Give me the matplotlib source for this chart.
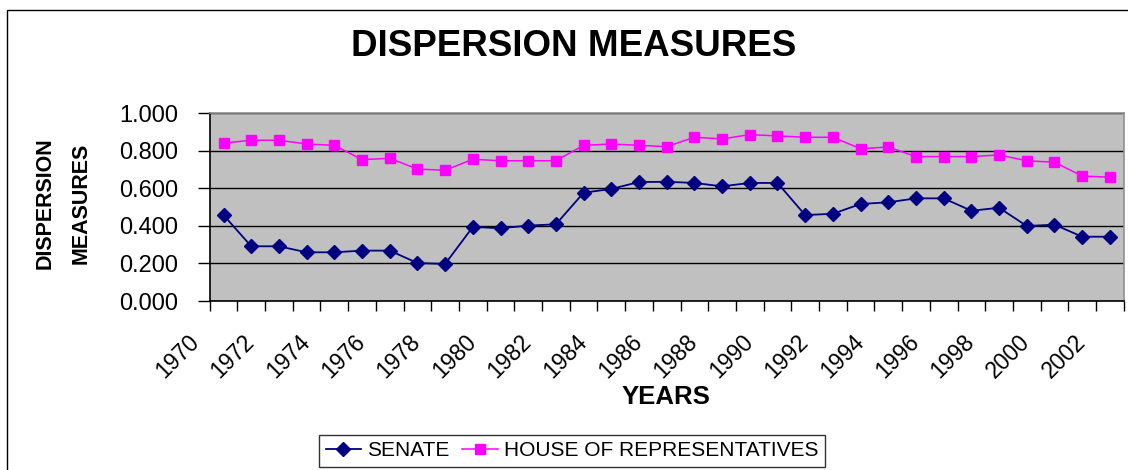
import numpy as np
import matplotlib.pyplot as plt
from matplotlib.patches import Rectangle
from matplotlib.transforms import ScaledTranslation

plt.rcParams['font.family'] = ['Liberation Sans', 'DejaVu Sans']

# Data
years = list(range(1970, 2003))
senate = [0.457, 0.291, 0.291, 0.259, 0.259, 0.268, 0.268, 0.202, 0.197,
          0.394, 0.387, 0.401, 0.408, 0.576, 0.596, 0.633, 0.634, 0.628,
          0.610, 0.628, 0.628, 0.457, 0.464, 0.516, 0.525, 0.546, 0.546,
          0.480, 0.496, 0.399, 0.406, 0.342, 0.342]
house = [0.840, 0.855, 0.855, 0.835, 0.828, 0.752, 0.759, 0.702, 0.695,
         0.754, 0.746, 0.746, 0.746, 0.828, 0.835, 0.828, 0.821, 0.871,
         0.862, 0.885, 0.878, 0.871, 0.871, 0.810, 0.819, 0.768, 0.768,
         0.768, 0.777, 0.746, 0.738, 0.665, 0.658]

W, H = 1128, 470
fig = plt.figure(figsize=(W / 100, H / 100), dpi=100)

# outer chart frame
fig.patches.append(Rectangle((7 / W, -0.1), 1.2, 1 - 10 / H + 0.1,
                             transform=fig.transFigure, fill=False,
                             edgecolor='black', linewidth=1))

ax = fig.add_axes([209.7 / W, 1 - 301 / H, 914 / W, 188 / H])
ax.set_facecolor('#C0C0C0')

x = np.arange(len(years))
ax.plot(x, senate, color='#000080', marker='D', markersize=7, linewidth=1.3,
        label='SENATE')
ax.plot(x, house, color='#FF00FF', marker='s', markersize=7, linewidth=1.1,
        label='HOUSE OF REPRESENTATIVES')

ax.set_xlim(-0.5, len(years) - 0.5)
ax.set_ylim(0, 1)

ax.set_yticks(np.arange(0, 1.01, 0.2))
ax.set_yticklabels([f'{v:.3f}' for v in np.arange(0, 1.01, 0.2)])
ax.yaxis.grid(True, color='black', linewidth=1)
ax.set_axisbelow(True)
ax.tick_params(axis='y', direction='out', length=9, width=1, pad=14,
               labelsize=17)

ax.set_xticks(x[::2])
ax.set_xticklabels([str(y) for y in years[::2]], rotation=45,
                   ha='right', va='top')
ax.set_xticks(np.arange(-0.5, len(years), 1), minor=True)
ax.tick_params(axis='x', which='major', length=0, pad=21, labelsize=16.5)
ax.tick_params(axis='x', which='minor', direction='out', length=7, width=1)
offset = ScaledTranslation(-20 / 100, 0, fig.dpi_scale_trans)
for lab in ax.xaxis.get_majorticklabels():
    lab.set_transform(lab.get_transform() + offset)

for side in ['left', 'bottom']:
    ax.spines[side].set_color('black')
    ax.spines[side].set_linewidth(1.2)
for side in ['top', 'right']:
    ax.spines[side].set_color('#909090')
    ax.spines[side].set_linewidth(1.2)

fig.text(574 / W, 1 - 47 / H, 'DISPERSION MEASURES', ha='center',
         va='center', fontsize=26.5, fontweight='bold')
fig.text(666 / W, 1 - 397 / H, 'YEARS', ha='center', va='center',
         fontsize=18.5, fontweight='bold')
fig.text(45 / W, 1 - 203 / H, 'DISPERSION', rotation=90, ha='center',
         va='center', fontsize=15.5, fontweight='bold')
fig.text(81 / W, 1 - 203 / H, 'MEASURES', rotation=90, ha='center',
         va='center', fontsize=15.5, fontweight='bold')

leg = fig.legend(loc='center', bbox_to_anchor=(572 / W, 1 - 451 / H),
                 ncol=2, fontsize=15, frameon=True, fancybox=False,
                 handlelength=1.7, handletextpad=0.3, columnspacing=0.6,
                 borderpad=0.3, borderaxespad=0)
leg.get_frame().set_edgecolor('black')
leg.get_frame().set_linewidth(1)

fig.savefig('out.png', dpi=100)
